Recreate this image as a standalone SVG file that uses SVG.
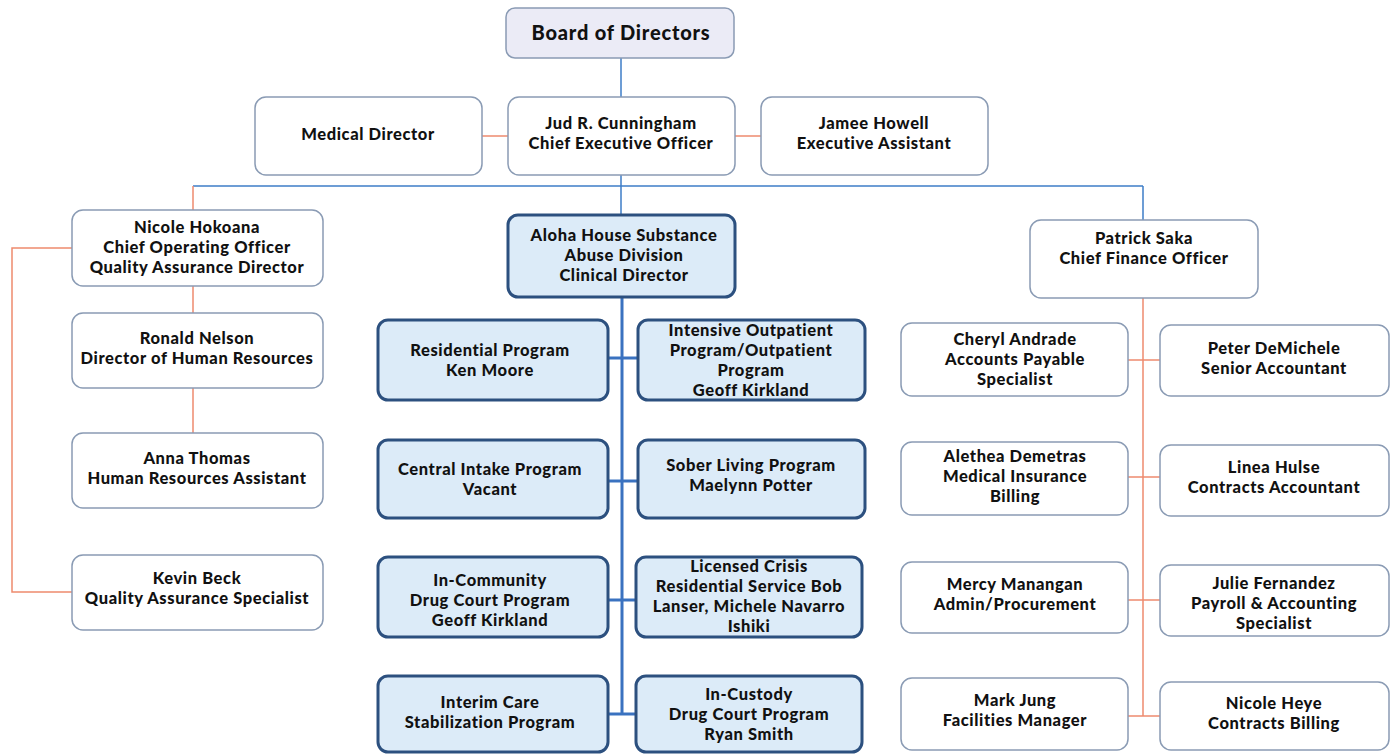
<svg xmlns="http://www.w3.org/2000/svg" width="1394" height="756" viewBox="0 0 1394 756">
<style>
.w{fill:#ffffff;stroke:#8a9bb4;stroke-width:1.5}
.b{fill:#dcebf8;stroke:#2c507f;stroke-width:3}
.p{fill:#ebebf6;stroke:#8a9bb4;stroke-width:1.5}
text{font-family:Lato,"Liberation Sans",sans-serif;font-weight:900;font-size:16.5px;letter-spacing:0.6px;fill:#111;text-anchor:middle}
text.big{font-size:20px;letter-spacing:0.8px}
.o{stroke:#ee8a6e;stroke-width:1.5;fill:none}
.bl{stroke:#3d7cc7;stroke-width:1.5;fill:none}
.bt{stroke:#3a72c0;stroke-width:3;fill:none}
</style>
<rect width="1394" height="756" fill="#ffffff"/>
<g id="connectors">
<line class="bl" x1="621" y1="58" x2="621" y2="97"/>
<line class="o" x1="482" y1="136" x2="508" y2="136"/>
<line class="o" x1="735" y1="136" x2="761" y2="136"/>
<line class="bl" x1="621" y1="175" x2="621" y2="215"/>
<line class="bl" x1="193" y1="186" x2="1143" y2="186"/>
<line class="o" x1="193" y1="186" x2="193" y2="210"/>
<line class="bl" x1="1143" y1="186" x2="1143" y2="220"/>
<line class="o" x1="193" y1="286" x2="193" y2="313"/>
<line class="o" x1="193" y1="388" x2="193" y2="433"/>
<polyline class="o" points="72,248 12,248 12,592 72,592"/>
<line class="bt" x1="622" y1="297" x2="622" y2="714"/>
<line class="bt" x1="608" y1="358" x2="638" y2="358"/>
<line class="bt" x1="608" y1="481" x2="638" y2="481"/>
<line class="bt" x1="608" y1="600" x2="636" y2="600"/>
<line class="bt" x1="608" y1="714" x2="636" y2="714"/>
<line class="o" x1="1143" y1="298" x2="1143" y2="716"/>
<line class="o" x1="1128" y1="360" x2="1160" y2="360"/>
<line class="o" x1="1128" y1="477" x2="1160" y2="477"/>
<line class="o" x1="1128" y1="600" x2="1160" y2="600"/>
<line class="o" x1="1128" y1="716" x2="1160" y2="716"/>
</g>
<g id="board"><rect class="p" x="506" y="8" width="228" height="50" rx="9"/><text class="big" x="621" y="40">Board of Directors</text></g>
<g id="medical"><rect class="w" x="255" y="97" width="227" height="78" rx="11"/><text x="368" y="140">Medical Director</text></g>
<g id="ceo"><rect class="w" x="508" y="97" width="227" height="78" rx="11"/><text x="621" y="129">Jud R. Cunningham</text><text x="621" y="149">Chief Executive Officer</text></g>
<g id="assistant"><rect class="w" x="761" y="97" width="227" height="78" rx="11"/><text x="874" y="129">Jamee Howell</text><text x="874" y="149">Executive Assistant</text></g>
<g id="coo"><rect class="w" x="72" y="210" width="251" height="76" rx="11"/><text x="197" y="233">Nicole Hokoana</text><text x="197" y="253">Chief Operating Officer</text><text x="197" y="273">Quality Assurance Director</text></g>
<g id="hr"><rect class="w" x="72" y="313" width="251" height="75" rx="11"/><text x="197" y="344">Ronald Nelson</text><text x="197" y="364">Director of Human Resources</text></g>
<g id="hra"><rect class="w" x="72" y="433" width="251" height="75" rx="11"/><text x="197" y="464">Anna Thomas</text><text x="197" y="484">Human Resources Assistant</text></g>
<g id="qa"><rect class="w" x="72" y="555" width="251" height="75" rx="11"/><text x="197" y="584">Kevin Beck</text><text x="197" y="604">Quality Assurance Specialist</text></g>
<g id="clinical"><rect class="b" x="508" y="215" width="227" height="82" rx="10"/><text x="624" y="241">Aloha House Substance</text><text x="624" y="261">Abuse Division</text><text x="624" y="281">Clinical Director</text></g>
<g id="residential"><rect class="b" x="378" y="320" width="230" height="80" rx="10"/><text x="490" y="356">Residential  Program</text><text x="490" y="376">Ken Moore</text></g>
<g id="iop"><rect class="b" x="638" y="320" width="227" height="80" rx="10"/><text x="751" y="336">Intensive Outpatient</text><text x="751" y="356">Program/Outpatient</text><text x="751" y="376">Program</text><text x="751" y="396">Geoff Kirkland</text></g>
<g id="intake"><rect class="b" x="378" y="440" width="230" height="78" rx="10"/><text x="490" y="475">Central Intake Program</text><text x="490" y="495">Vacant</text></g>
<g id="sober"><rect class="b" x="638" y="440" width="227" height="78" rx="10"/><text x="751" y="471">Sober Living Program</text><text x="751" y="491">Maelynn Potter</text></g>
<g id="community"><rect class="b" x="378" y="557" width="230" height="80" rx="10"/><text x="490" y="586">In-Community</text><text x="490" y="606">Drug Court Program</text><text x="490" y="626">Geoff Kirkland</text></g>
<g id="crisis"><rect class="b" x="636" y="557" width="226" height="80" rx="10"/><text x="749" y="572">Licensed Crisis</text><text x="749" y="592">Residential Service Bob</text><text x="749" y="612">Lanser, Michele Navarro</text><text x="749" y="632">Ishiki</text></g>
<g id="interim"><rect class="b" x="378" y="676" width="230" height="76" rx="10"/><text x="490" y="708">Interim Care</text><text x="490" y="728">Stabilization Program</text></g>
<g id="custody"><rect class="b" x="636" y="676" width="226" height="76" rx="10"/><text x="749" y="700">In-Custody</text><text x="749" y="720">Drug Court Program</text><text x="749" y="740">Ryan Smith</text></g>
<g id="cfo"><rect class="w" x="1030" y="220" width="228" height="78" rx="11"/><text x="1144" y="244">Patrick Saka</text><text x="1144" y="264">Chief Finance Officer</text></g>
<g id="ap"><rect class="w" x="901" y="323" width="227" height="73" rx="11"/><text x="1015" y="345">Cheryl Andrade</text><text x="1015" y="365">Accounts Payable</text><text x="1015" y="385">Specialist</text></g>
<g id="senior"><rect class="w" x="1160" y="325" width="229" height="71" rx="11"/><text x="1274" y="354">Peter DeMichele</text><text x="1274" y="374">Senior Accountant</text></g>
<g id="billing"><rect class="w" x="901" y="442" width="227" height="73" rx="11"/><text x="1015" y="462">Alethea Demetras</text><text x="1015" y="482">Medical Insurance</text><text x="1015" y="502">Billing</text></g>
<g id="contracts"><rect class="w" x="1160" y="445" width="229" height="71" rx="11"/><text x="1274" y="473">Linea Hulse</text><text x="1274" y="493">Contracts Accountant</text></g>
<g id="admin"><rect class="w" x="901" y="562" width="227" height="71" rx="11"/><text x="1015" y="590">Mercy Manangan</text><text x="1015" y="610">Admin/Procurement</text></g>
<g id="payroll"><rect class="w" x="1160" y="565" width="229" height="71" rx="11"/><text x="1274" y="589">Julie Fernandez</text><text x="1274" y="609">Payroll &amp; Accounting</text><text x="1274" y="629">Specialist</text></g>
<g id="facilities"><rect class="w" x="901" y="678" width="227" height="72" rx="11"/><text x="1015" y="706">Mark Jung</text><text x="1015" y="726">Facilities Manager</text></g>
<g id="heye"><rect class="w" x="1160" y="682" width="229" height="68" rx="11"/><text x="1274" y="709">Nicole Heye</text><text x="1274" y="729">Contracts Billing</text></g>
</svg>
